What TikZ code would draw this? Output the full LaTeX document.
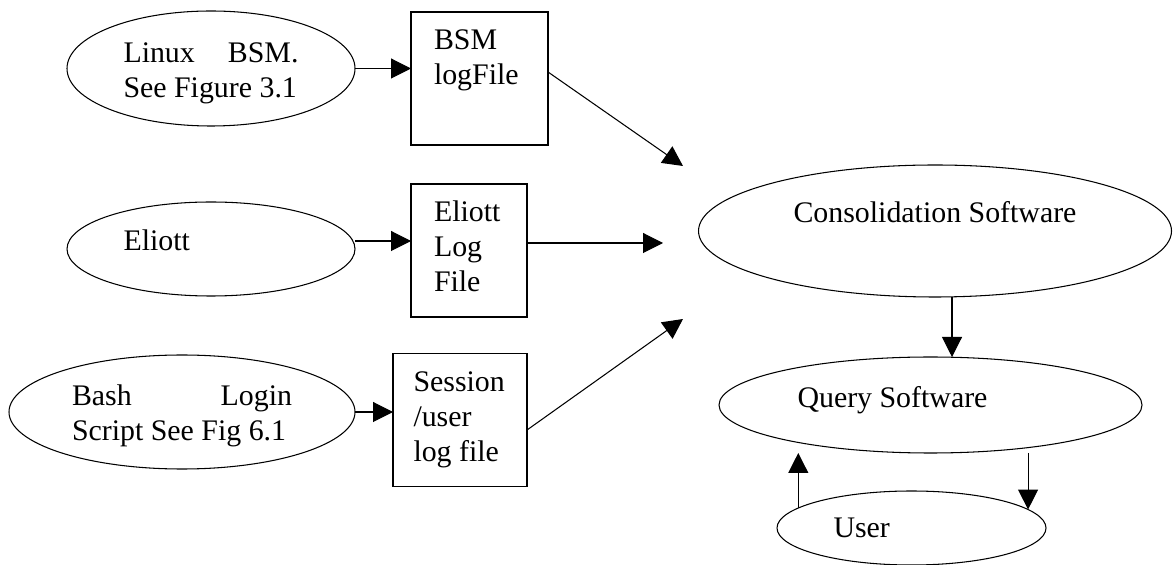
\documentclass[tikz,border=0pt]{standalone}
\usepackage{fontspec}
\setmainfont{Liberation Serif}
\usetikzlibrary{shapes.geometric, arrows.meta, positioning, calc}

\begin{document}
\begin{tikzpicture}[
  process/.style={ellipse, draw, line width=0.6pt, inner sep=0pt, outer sep=0pt},
  logfile/.style={rectangle, draw, line width=0.6pt, inner xsep=0.46cm, inner ysep=0pt,
                  outer sep=0pt, align=flush left, text height=0.76cm, text depth=1.9cm},
  arrow/.style={-{Triangle[length=0.4cm, width=0.4cm]}, line width=0.6pt},
  every node/.style={font=\fontsize{17}{19.9}\selectfont},
]
  \useasboundingbox (0,0) rectangle (23.5,-11.3);

  % Sources
  \node[process, minimum width=5.76cm, minimum height=2.3cm, text width=3.5cm,
        align=flush left, text depth=0.62cm] (linux) at (4.22,-1.37) {Linux\hfill BSM.\\See Figure 3.1};
  \node[process, minimum width=5.76cm, minimum height=1.88cm, text width=3.5cm,
        align=flush left, text depth=0.36cm] (eliott) at (4.22,-4.98) {Eliott};
  \node[process, minimum width=6.92cm, minimum height=2.28cm, text width=4.4cm,
        align=flush left, text depth=0.68cm] (bash) at (3.64,-8.24) {Bash\hfill Login\\Script See Fig 6.1};

  % Log files
  \node[logfile, text width=1.82cm] (bsmlog) at (9.59,-1.57) {BSM\\logFile};
  \node[logfile, text width=1.40cm] (eliottlog) at (9.38,-5.01) {Eliott\\Log\\File};
  \node[logfile, text width=1.86cm, inner xsep=0.41cm] (sessionlog) at (9.20,-8.40) {Session\\/user\\log file};

  % Consolidation and query
  \node[process, minimum width=9.46cm, minimum height=2.64cm, text depth=0.76cm] (consol) at (18.7,-4.62) {Consolidation Software};
  \node[process, minimum width=8.46cm, minimum height=1.92cm, text width=5.32cm,
        align=flush left, text depth=0.32cm] (query) at (18.61,-8.1) {Query Software};
  \node[process, minimum width=5.38cm, minimum height=1.48cm, text width=3.12cm,
        align=flush left] (user) at (18.23,-10.56) {User};

  % Free arrow ends
  \coordinate (inbsm) at (13.66,-3.32);
  \coordinate (ineliott) at (13.26,-4.86);
  \coordinate (insession) at (13.66,-6.38);

  % Sources to log files
  \draw[arrow] (linux.east) -- (linux.east -| bsmlog.west);
  \draw[arrow] ([yshift=0.16cm]eliott.east) -- ([yshift=0.16cm]eliott.east -| eliottlog.west);
  \draw[arrow] (bash.east) -- (bash.east -| sessionlog.west);

  % Log files to consolidation
  \draw[arrow] ([yshift=0.13cm]bsmlog.east) -- (inbsm);
  \draw[arrow] ([yshift=0.15cm]eliottlog.east) -- (ineliott);
  \draw[arrow] ([yshift=-0.2cm]sessionlog.east) -- (insession);

  % Consolidation, query, user
  \draw[arrow] ([xshift=0.34cm]consol.south) -- ([xshift=0.34cm]consol.south |- query.north);
  \draw[arrow] (query.south -| user.9) -- (user.9);
  \draw[arrow] (user.170) -- (user.170 |- query.south);
\end{tikzpicture}
\end{document}
